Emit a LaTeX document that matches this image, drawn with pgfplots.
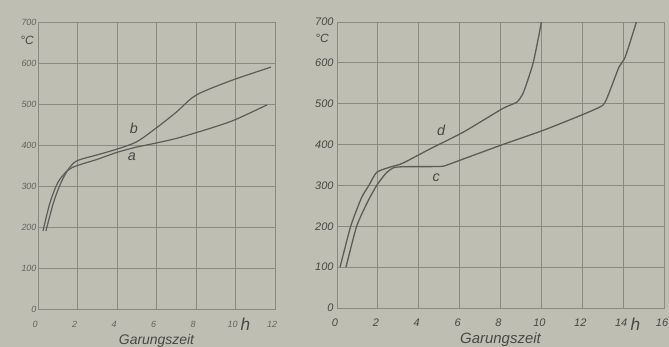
\documentclass[border=0pt]{standalone}
\usepackage{fontspec}
\setmainfont{Liberation Sans}
\usepackage{pgfplots}
\pgfplotsset{compat=1.18}
\definecolor{bg}{RGB}{191,190,179}
\definecolor{gridc}{RGB}{138,138,130}
\definecolor{curve}{RGB}{92,92,88}
\definecolor{txt}{RGB}{72,72,70}
\pgfplotsset{
  myaxis/.style={
    scale only axis,
    anchor=south west,
    ymin=0, ymax=700,
    ytick={0,100,...,700},
    grid=major,
    major grid style={gridc, line width=0.8pt},
    axis line style={gridc, line width=0.9pt},
    major tick length=0pt,
    /pgf/number format/assume math mode=true,
    tick label style={text=txt},
    xlabel={Garungszeit},
    xlabel style={font=\itshape\fontsize{14}{16}\selectfont, text=txt,
      at={(axis description cs:0.5,-0.11)}, anchor=center},
    x tick label style={anchor=center, yshift=-15bp},
    clip=false,
  }
}
\begin{document}
\begin{tikzpicture}
\fill[bg] (0bp,0bp) rectangle (669bp,347bp);
\useasboundingbox (0bp,0bp) rectangle (669bp,347bp);
% left panel
\begin{axis}[myaxis, at={(38bp,38bp)}, width=237bp, height=287bp,
  xmin=0, xmax=12, xtick={0,2,...,12},
  tick label style={font=\itshape\small, text=txt!85},
  x tick label style={xshift=-3bp},
  y tick label style={xshift=2pt}]
\addplot[curve, line width=1.2pt, smooth, tension=0.5] coordinates {
 (0.40,190) (0.8,262) (1.2,312) (1.6,345) (2.0,362) (3,376) (4,390) (5,408)
 (6,442) (7,480) (7.8,515) (8.5,533) (10,561) (11.8,590)};
\addplot[curve, line width=1.2pt, smooth, tension=0.5] coordinates {
 (0.25,190) (0.6,258) (1.0,308) (1.5,338) (2.0,350) (3,365) (4,382) (5,395)
 (6,405) (7,416) (8,430) (9,445) (10,462) (11.6,498)};
\node[font=\itshape\Large, text=txt] at (axis cs:4.85,441) {b};
\node[font=\itshape\Large, text=txt] at (axis cs:4.75,371) {a};
\node[font=\itshape\large, text=txt] at (axis cs:-0.55,656) {°C};
\node[font=\itshape\LARGE, text=txt] at (axis cs:10.5,-38) {h};
\end{axis}
% right panel
\begin{axis}[myaxis, at={(337bp,39bp)}, width=327bp, height=286bp,
  xmin=0, xmax=16, xtick={0,2,...,16},
  tick label style={font=\itshape\fontsize{11}{13}\selectfont},
  xlabel style={font=\itshape\fontsize{15}{17}\selectfont},
  x tick label style={xshift=-2bp}]
\addplot[curve, line width=1.3pt, smooth, tension=0.35] coordinates {
 (0.15,100) (0.67,200) (1.2,270) (1.56,300) (1.94,332) (2.6,345) (3.2,354)
 (4.5,388) (6.2,431) (8.1,488) (8.8,504) (9.1,525) (9.35,560) (9.6,600) (9.85,660) (10.0,700)};
\addplot[curve, line width=1.3pt, smooth, tension=0.35] coordinates {
 (0.44,100) (0.96,200) (1.5,260) (1.94,300) (2.4,330) (2.8,344)
 (3.5,346) (4.5,346) (5.2,347) (5.6,354) (8.05,399) (10.1,435) (12.0,473)
 (13.0,496) (13.3,525) (13.8,590) (14.1,614) (14.65,700)};
\node[font=\itshape\Large, text=txt] at (axis cs:5.1,435) {d};
\node[font=\itshape\Large, text=txt] at (axis cs:4.85,320) {c};
\node[font=\itshape\large, text=txt] at (axis cs:-0.73,660) {°C};
\node[font=\itshape\LARGE, text=txt] at (axis cs:14.6,-40) {h};
\end{axis}
\end{tikzpicture}
\end{document}
